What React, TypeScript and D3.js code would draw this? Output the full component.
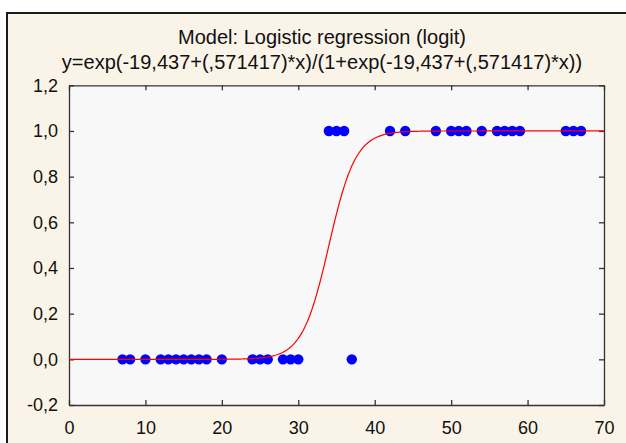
import React, { useRef, useEffect } from 'react';
import * as d3 from 'd3';

const titleLines = [
    'Model: Logistic regression (logit)',
    'y=exp(-19,437+(,571417)*x)/(1+exp(-19,437+(,571417)*x))',
];

// observations (x, y)
const xObs = [7, 8, 10, 12, 13, 14, 15, 16, 17, 18, 20, 24, 25, 26, 28, 29, 30, 37,
    34, 35, 36, 42, 44, 48, 50, 51, 52, 54, 56, 57, 58, 59, 65, 66, 67];
const yObs = [0, 0, 0, 0, 0, 0, 0, 0, 0, 0, 0, 0, 0, 0, 0, 0, 0, 0,
    1, 1, 1, 1, 1, 1, 1, 1, 1, 1, 1, 1, 1, 1, 1, 1, 1];

// fitted model coefficients (from the title)
const intercept = -19.437;
const slope = 0.571417;

const xTicks = [0, 10, 20, 30, 40, 50, 60, 70];
const yTicks = [-0.2, 0, 0.2, 0.4, 0.6, 0.8, 1.0, 1.2];

const App = () => {
    const svgRef = useRef(null);

    useEffect(() => {
        const width = 626;
        const height = 443;
        const margin = { top: 85.3, right: 22, bottom: 38, left: 69 };
        const font = '"Liberation Sans", Arial, sans-serif';

        d3.select(svgRef.current).selectAll('*').remove();

        const svg = d3.select(svgRef.current)
            .attr('width', width)
            .attr('height', height);

        svg.append('rect')
            .attr('width', width).attr('height', height)
            .attr('fill', '#ffffff');

        // outer frame
        svg.append('rect')
            .attr('x', 7).attr('y', 13)
            .attr('width', 660).attr('height', 480)
            .attr('fill', '#faf3e8')
            .attr('stroke', '#1a1a1a')
            .attr('stroke-width', 2);

        const x = d3.scaleLinear()
            .domain([0, 70])
            .range([margin.left, width - margin.right]);

        const y = d3.scaleLinear()
            .domain([-0.2, 1.2])
            .range([height - margin.bottom, margin.top]);

        svg.append('rect')
            .attr('x', x(0)).attr('y', y(1.2))
            .attr('width', x(70) - x(0)).attr('height', y(-0.2) - y(1.2))
            .attr('fill', '#f8f8f8');

        const fmt = (d) => d.toFixed(1).replace('.', ',');

        const styleAxis = (g) => {
            g.select('.domain').attr('stroke', '#333').attr('stroke-width', 1.3);
            g.selectAll('.tick line').attr('stroke', '#333').attr('stroke-width', 1.3);
            g.selectAll('text')
                .attr('fill', '#111')
                .style('font-family', font)
                .style('font-size', '18px');
        };

        svg.append('g')
            .attr('transform', `translate(0,${y(-0.2)})`)
            .call(d3.axisBottom(x).tickValues(xTicks).tickSizeInner(-5).tickSizeOuter(0).tickPadding(16))
            .call(styleAxis);

        svg.append('g')
            .attr('transform', `translate(0,${y(1.2)})`)
            .call(d3.axisTop(x).tickValues(xTicks).tickSizeInner(-5).tickSizeOuter(0).tickFormat(() => ''))
            .call(styleAxis);

        svg.append('g')
            .attr('transform', `translate(${x(0)},0)`)
            .call(d3.axisLeft(y).tickValues(yTicks).tickSizeInner(-5).tickSizeOuter(0).tickPadding(11).tickFormat(fmt))
            .call(styleAxis);

        svg.append('g')
            .attr('transform', `translate(${x(70)},0)`)
            .call(d3.axisRight(y).tickValues(yTicks).tickSizeInner(-5).tickSizeOuter(0).tickFormat(() => ''))
            .call(styleAxis);

        svg.selectAll('.dot')
            .data(xObs.map((d, i) => ({ x: d, y: yObs[i] })))
            .enter()
            .append('circle')
            .attr('class', 'dot')
            .attr('cx', (d) => x(d.x))
            .attr('cy', (d) => y(d.y))
            .attr('r', 5.2)
            .attr('fill', '#0000ff');

        const p = (v) => Math.exp(intercept + slope * v) / (1 + Math.exp(intercept + slope * v));
        const curve = d3.range(0, 70.001, 0.2).map((v) => [v, p(v)]);

        svg.append('path')
            .datum(curve)
            .attr('fill', 'none')
            .attr('stroke', '#ff0000')
            .attr('stroke-width', 1.2)
            .attr('d', d3.line().x((d) => x(d[0])).y((d) => y(d[1])));

        svg.selectAll('.title')
            .data(titleLines)
            .enter()
            .append('text')
            .attr('class', 'title')
            .attr('x', 322)
            .attr('y', (d, i) => 44 + i * 25)
            .attr('text-anchor', 'middle')
            .attr('fill', '#111')
            .style('font-family', font)
            .style('font-size', '20px')
            .text((d) => d);
    }, []);

    return (
        <svg ref={svgRef} style={{ position: 'absolute', left: 0, top: 0 }}></svg>
    );
};

export default App;
